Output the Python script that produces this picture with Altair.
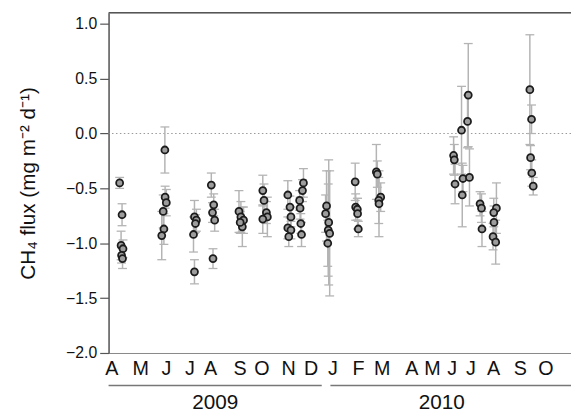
import json
import altair as alt
import pandas as pd

FONT = "Liberation Sans, Arial, Helvetica, sans-serif"

# Sampling campaigns (x in months since 1 Apr 2009, flux, +/- error)
x1 = [0.46, 0.56, 0.52, 0.60, 0.54, 0.58]
y1 = [-0.45, -0.74, -1.02, -1.05, -1.11, -1.14]
e1 = [0.05, 0.10, 0.13, 0.08, 0.07, 0.09]

x2 = [2.34, 2.35, 2.40, 2.27, 2.30, 2.21]
y2 = [-0.15, -0.58, -0.63, -0.71, -0.87, -0.93]
e2 = [0.21, 0.10, 0.12, 0.15, 0.14, 0.22]

x3 = [3.57, 3.65, 3.61, 3.53, 3.57]
y3 = [-0.76, -0.79, -0.82, -0.92, -1.26]
e3 = [0.15, 0.10, 0.08, 0.16, 0.11]

x4 = [4.27, 4.37, 4.32, 4.41, 4.34]
y4 = [-0.47, -0.65, -0.72, -0.79, -1.14]
e4 = [0.11, 0.10, 0.09, 0.10, 0.09]

x5 = [5.42, 5.50, 5.61, 5.56, 5.47]
y5 = [-0.71, -0.76, -0.79, -0.85, -0.81]
e5 = [0.19, 0.14, 0.12, 0.18, 0.10]

x6 = [6.41, 6.46, 6.56, 6.60, 6.41]
y6 = [-0.52, -0.61, -0.72, -0.76, -0.78]
e6 = [0.14, 0.15, 0.10, 0.18, 0.13]

x7 = [7.45, 7.54, 7.58, 7.45, 7.58, 7.49]
y7 = [-0.56, -0.67, -0.76, -0.86, -0.88, -0.94]
e7 = [0.13, 0.10, 0.09, 0.10, 0.08, 0.09]

x8 = [8.10, 8.06, 7.94, 7.96, 7.99, 8.02]
y8 = [-0.45, -0.52, -0.61, -0.68, -0.82, -0.92]
e8 = [0.13, 0.10, 0.09, 0.10, 0.09, 0.11]

x9 = [9.06, 9.02, 9.15, 9.13, 9.19, 9.11]
y9 = [-0.66, -0.73, -0.81, -0.88, -0.91, -1.00]
e9 = [0.32, 0.17, 0.57, 0.42, 0.57, 0.21]

x10 = [10.25, 10.27, 10.34, 10.35, 10.38]
y10 = [-0.44, -0.67, -0.69, -0.73, -0.87]
e10 = [0.17, 0.12, 0.10, 0.14, 0.07]

x11 = [11.13, 11.17, 11.31, 11.23, 11.24]
y11 = [-0.35, -0.37, -0.58, -0.61, -0.64]
e11 = [0.25, 0.12, 0.13, 0.21, 0.30]

x12 = [14.34, 14.37, 14.40]
y12 = [-0.20, -0.24, -0.46]
e12 = [0.17, 0.14, 0.18]

x13 = [14.67, 14.73, 14.70]
y13 = [0.03, -0.41, -0.56]
e13 = [0.40, 0.12, 0.29]

x14 = [14.95, 14.92, 15.00]
y14 = [0.35, 0.11, -0.40]
e14 = [0.47, 0.24, 0.26]

x15 = [15.44, 15.50, 15.52]
y15 = [-0.64, -0.68, -0.87]
e15 = [0.11, 0.13, 0.16]

x16 = [16.12, 16.01, 16.02, 15.98, 16.09]
y16 = [-0.68, -0.72, -0.81, -0.94, -0.99]
e16 = [0.23, 0.13, 0.15, 0.12, 0.20]

x17 = [17.51, 17.58, 17.54, 17.59, 17.65]
y17 = [0.40, 0.13, -0.22, -0.36, -0.48]
e17 = [0.50, 0.13, 0.11, 0.12, 0.08]

# Month tick labels and their positions (months since 1 Apr 2009)
month_labels = ["A", "M", "J", "J", "A", "S", "O", "N", "D",
                "J", "F", "M", "A", "M", "J", "J", "A", "S", "O"]
month_ticks = [0.12, 1.31, 2.38, 3.36, 4.22, 5.45, 6.35, 7.46, 8.40,
               9.30, 10.37, 11.35, 12.58, 13.44, 14.26, 15.04, 15.98, 17.09, 18.16]

years = ["2009", "2010"]
year_start = [0.0, 9.22]
year_end = [8.86, 19.3]
year_mid = [4.43, 13.85]

y_ticks = [-2.0, -1.5, -1.0, -0.5, 0.0, 0.5, 1.0]

xs = x1 + x2 + x3 + x4 + x5 + x6 + x7 + x8 + x9 + x10 + x11 + x12 + x13 + x14 + x15 + x16 + x17
ys = y1 + y2 + y3 + y4 + y5 + y6 + y7 + y8 + y9 + y10 + y11 + y12 + y13 + y14 + y15 + y16 + y17
es = e1 + e2 + e3 + e4 + e5 + e6 + e7 + e8 + e9 + e10 + e11 + e12 + e13 + e14 + e15 + e16 + e17

df = pd.DataFrame({"t": xs, "flux": ys, "err": es})
df["lo"] = df["flux"] - df["err"]
df["hi"] = df["flux"] + df["err"]

ydf = pd.DataFrame({"year": years, "start": year_start, "end": year_end, "mid": year_mid})

W, H = 469, 345

label_expr = "{}[indexof({}, datum.value)]".format(json.dumps(month_labels), json.dumps(month_ticks))

xscale = alt.Scale(domain=[0, 19.22], nice=False, zero=False)
yscale = alt.Scale(domain=[-2.0, 1.1], nice=False, zero=False)

xaxis = alt.Axis(
    values=month_ticks, labelExpr=label_expr, ticks=False, grid=False,
    labelFontSize=20, labelFont=FONT, labelColor="#111", labelPadding=6,
    labelOverlap=False, labelFlush=False, labelBound=False,
    domainColor="#8a8a8a", domainWidth=1.2, title=None,
)
yaxis = alt.Axis(
    values=y_ticks, format=".1f", grid=False, tickSize=9, tickColor="#555",
    tickWidth=1.2, domainColor="#555", domainWidth=1.5,
    labelFontSize=16, labelFont=FONT, labelColor="#111", labelPadding=3,
    labelOverlap=False,
    title="CH₄ flux (mg m⁻² d⁻¹)", titleFontSize=21, titleFont=FONT,
    titleFontWeight="normal", titleColor="#111", titlePadding=28,
)


def X(field):
    return alt.X(field, type="quantitative", scale=xscale, axis=xaxis)


def Y(field):
    return alt.Y(field, type="quantitative", scale=yscale, axis=yaxis)


base = alt.Chart(df)

zero = alt.Chart().mark_rule(color="#9a9a9a", strokeDash=[1.5, 2.5], strokeWidth=1.2).encode(
    y=alt.datum(0, scale=yscale, axis=yaxis)
)

bars = base.mark_rule(color="#b4b4b4", strokeWidth=1.5).encode(
    x=X("t"), y=Y("lo"), y2="hi:Q",
)
cap_lo = base.mark_tick(orient="horizontal", size=9, thickness=1.3, color="#b4b4b4", opacity=1).encode(
    x=X("t"), y=Y("lo")
)
cap_hi = base.mark_tick(orient="horizontal", size=9, thickness=1.3, color="#b4b4b4", opacity=1).encode(
    x=X("t"), y=Y("hi")
)
points = base.mark_circle(size=50, color="#9d9d9d", stroke="#1c1c1c", strokeWidth=1.8, opacity=1).encode(
    x=X("t"), y=Y("flux")
)

year_lines = alt.Chart(ydf).mark_rule(color="#777", strokeWidth=1.4).encode(
    x=X("start"), x2="end:Q", y=alt.value(H + 33)
)
year_text = alt.Chart(ydf).mark_text(fontSize=21, font=FONT, color="#111", baseline="alphabetic").encode(
    x=X("mid"), y=alt.value(H + 57), text="year:N"
)

top_border = alt.Chart().mark_rule(color="#555", strokeWidth=1.5).encode(
    x=alt.value(0), x2=alt.value(W + 5), y=alt.value(0)
)

chart = alt.layer(
    zero, bars, cap_lo, cap_hi, points, year_lines, year_text, top_border
).properties(
    width=W, height=H,
    autosize=alt.AutoSizeParams(type="none"),
    padding={"left": 102, "top": 2, "right": 0, "bottom": 60},
).configure_view(stroke=None).configure(background="white").configure_axisX(labelOverlap=False)

chart.save("out.html", embed_options={"renderer": "svg", "actions": False})
